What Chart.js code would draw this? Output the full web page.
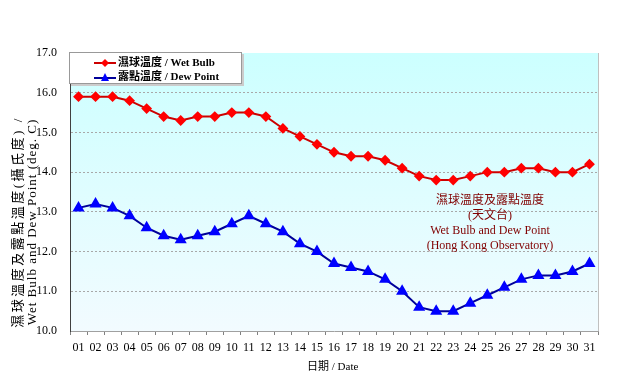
<!DOCTYPE html>
<html>
<head>
<meta charset="utf-8">
<script src="https://cdn.jsdelivr.net/npm/chart.js@4/dist/chart.umd.min.js"></script>
<style>
  body { margin: 0; background: #fff; }
  #wrap { position: relative; width: 635px; height: 390px; }
  #chart { position: absolute; left: 0; top: 0; }
  .serif { font-family: "Liberation Serif", "Noto Sans CJK TC", serif; }
  #legend {
    position: absolute; left: 69px; top: 52px; width: 171px; height: 30px;
    background: #fff; border: 1px solid #999; box-shadow: 2px 2px 0 #ccc;
    font-size: 11px; font-weight: bold; color: #000;
  }
  #legend .row { position: absolute; left: 24px; height: 14px; line-height: 14px; white-space: nowrap; }
  #legend svg { vertical-align: middle; margin-right: 2px; }
  #note {
    position: absolute; left: 410px; top: 193px; width: 160px; text-align: center;
    color: #800000; font-size: 12px; line-height: 15px;
  }
  #ytitle {
    position: absolute; left: 25px; top: 222px; width: 260px; text-align: center;
    transform: translate(-50%, -50%) rotate(-90deg); font-size: 13px; line-height: 14px; white-space: nowrap;
  }
  #xtitle { position: absolute; left: 307px; top: 357px; font-size: 11px; white-space: nowrap; }
</style>
</head>
<body>
<div id="wrap">
  <canvas id="chart" width="635" height="390"></canvas>
  <div id="legend" class="serif">
    <div class="row" style="top:2px"><svg width="22" height="10"><line x1="0" y1="5" x2="22" y2="5" stroke="#cc0000" stroke-width="2"/><polygon points="11,1 15,5 11,9 7,5" fill="#ff0000"/></svg>濕球溫度 / Wet Bulb</div>
    <div class="row" style="top:16px"><svg width="22" height="10"><line x1="0" y1="6" x2="22" y2="6" stroke="#000099" stroke-width="2"/><polygon points="11,1 15,9 7,9" fill="#0000ff"/></svg>露點溫度 / Dew Point</div>
  </div>
  <div id="note" class="serif">濕球溫度及露點溫度<br>(天文台)<br>Wet Bulb and Dew Point<br>(Hong Kong Observatory)</div>
  <div id="ytitle" class="serif"><span style="letter-spacing:2.5px">濕球溫度及露點溫度(攝氏度) /</span><br><span style="letter-spacing:1px">Wet Bulb and Dew Point (deg. C)</span></div>
  <div id="xtitle" class="serif">日期 / Date</div>
</div>
<script>
const days = ["01","02","03","04","05","06","07","08","09","10","11","12","13","14","15","16",
  "17","18","19","20","21","22","23","24","25","26","27","28","29","30","31"];
const wetBulb = [15.9, 15.9, 15.9, 15.8, 15.6, 15.4, 15.3, 15.4, 15.4, 15.5, 15.5, 15.4, 15.1, 14.9, 14.7, 14.5,
  14.4, 14.4, 14.3, 14.1, 13.9, 13.8, 13.8, 13.9, 14.0, 14.0, 14.1, 14.1, 14.0, 14.0, 14.2];
const dewPoint = [13.1, 13.2, 13.1, 12.9, 12.6, 12.4, 12.3, 12.4, 12.5, 12.7, 12.9, 12.7, 12.5, 12.2, 12.0, 11.7,
  11.6, 11.5, 11.3, 11.0, 10.6, 10.5, 10.5, 10.7, 10.9, 11.1, 11.3, 11.4, 11.4, 11.5, 11.7];
const yMin = 10, yMax = 17;

const plotBackground = {
  id: "plotBackground",
  beforeDraw(chart) {
    const { ctx, chartArea: a } = chart;
    const g = ctx.createLinearGradient(0, a.top, 0, a.bottom);
    g.addColorStop(0, "#ccffff");
    g.addColorStop(1, "#f2fbff");
    ctx.save();
    ctx.fillStyle = g;
    ctx.fillRect(a.left, a.top, a.right - a.left, a.bottom - a.top);
    ctx.strokeStyle = "#c0c0c0";
    ctx.lineWidth = 1;
    ctx.beginPath();
    ctx.moveTo(a.right + 0.5, a.top);
    ctx.lineTo(a.right + 0.5, a.bottom);
    ctx.stroke();
    ctx.restore();
  }
};

const tickFont = { family: "Liberation Serif", size: 12 };

new Chart(document.getElementById("chart"), {
  type: "line",
  data: {
    labels: days,
    datasets: [
      {
        label: "濕球溫度 / Wet Bulb",
        data: wetBulb,
        borderColor: "#cc0000",
        backgroundColor: "#ff0000",
        pointBackgroundColor: "#ff0000",
        pointBorderColor: "#ff0000",
        pointStyle: "rectRot",
        pointRadius: 4,
        borderWidth: 2,
        tension: 0
      },
      {
        label: "露點溫度 / Dew Point",
        data: dewPoint,
        borderColor: "#000099",
        backgroundColor: "#0000ff",
        pointBackgroundColor: "#0000ff",
        pointBorderColor: "#0000ff",
        pointStyle: "triangle",
        pointRadius: 5,
        borderWidth: 2,
        tension: 0
      }
    ]
  },
  options: {
    responsive: false,
    animation: false,
    layout: { padding: { top: 53, right: 37, bottom: 0, left: 0 } },
    plugins: { legend: { display: false }, tooltip: { enabled: false } },
    scales: {
      x: {
        offset: true,
        afterFit: s => { s.height = 59; },
        grid: { offset: true, drawOnChartArea: false, drawTicks: true, tickLength: 4, color: "#808080" },
        border: { color: "#a0a0a0" },
        ticks: { font: tickFont, color: "#000", padding: 6, maxRotation: 0, autoSkip: false }
      },
      y: {
        min: yMin,
        max: yMax,
        afterFit: s => { s.width = 70; },
        grid: {
          drawTicks: false,
          color: c => (c.tick && (c.tick.value === yMin || c.tick.value === yMax)) ? "rgba(0,0,0,0)" : "#a8a8a8"
        },
        border: { color: "#404040", dash: [2, 2] },
        ticks: { stepSize: 1, font: tickFont, color: "#000", padding: 13, callback: v => v.toFixed(1) }
      }
    }
  },
  plugins: [plotBackground]
});
</script>
</body>
</html>
